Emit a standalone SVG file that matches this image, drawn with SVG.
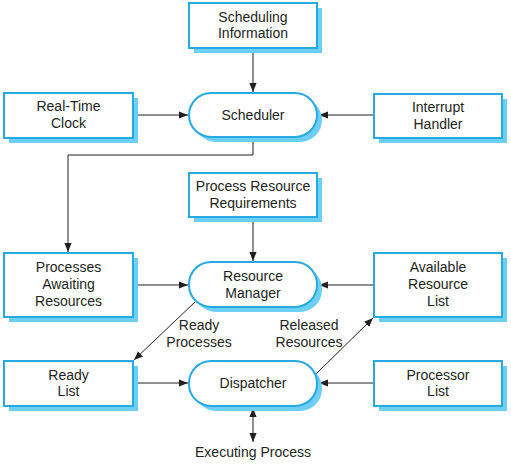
<svg xmlns="http://www.w3.org/2000/svg" width="511" height="465" viewBox="0 0 511 465">
<style>
.sh{fill:#6dcff6;stroke:none}
.bx{fill:#fff;stroke:#27aae1;stroke-width:2}
.t{font-family:"Liberation Sans",Arial,sans-serif;font-size:14px;fill:#231f20;text-anchor:middle}
.c{fill:none;stroke:#231f20;stroke-width:1}
</style>
<defs>
<marker id="ah" viewBox="0 0 10 10" refX="10" refY="5" markerWidth="9" markerHeight="9" markerUnits="userSpaceOnUse" orient="auto-start-reverse">
<path d="M0,1 L10,5 L0,9 Z" fill="#231f20"/>
</marker>
</defs>
<rect width="511" height="465" fill="#fff"/>
<g id="connectors">
<line class="c" x1="253" y1="48" x2="253" y2="92" marker-end="url(#ah)"/>
<line class="c" x1="133" y1="115" x2="188" y2="115" marker-end="url(#ah)"/>
<line class="c" x1="374" y1="115" x2="319" y2="115" marker-end="url(#ah)"/>
<polyline class="c" points="253,137 253,155 68,155 68,252" marker-end="url(#ah)"/>
<line class="c" x1="253" y1="217" x2="253" y2="261" marker-end="url(#ah)"/>
<line class="c" x1="133" y1="285" x2="188" y2="285" marker-end="url(#ah)"/>
<line class="c" x1="374" y1="285" x2="319" y2="285" marker-end="url(#ah)"/>
<line class="c" x1="195" y1="302" x2="134" y2="360" marker-end="url(#ah)"/>
<line class="c" x1="316" y1="374" x2="373" y2="318" marker-end="url(#ah)"/>
<line class="c" x1="133" y1="383" x2="188" y2="383" marker-end="url(#ah)"/>
<line class="c" x1="374" y1="383" x2="319" y2="383" marker-end="url(#ah)"/>
<line class="c" x1="253" y1="408" x2="253" y2="442" marker-start="url(#ah)" marker-end="url(#ah)"/>
<text class="t" x="199" y="330">Ready</text>
<text class="t" x="199" y="347">Processes</text>
<text class="t" x="309" y="330">Released</text>
<text class="t" x="309" y="347">Resources</text>
<text class="t" x="253" y="457">Executing Process</text>
</g>
<g id="scheduling-information">
<rect class="sh" x="194" y="8" width="128" height="45"/>
<rect class="bx" x="189" y="3" width="128" height="45"/>
<text class="t" x="253" y="22">Scheduling</text>
<text class="t" x="253" y="38">Information</text>
</g>
<g id="real-time-clock">
<rect class="sh" x="9" y="98" width="129" height="45"/>
<rect class="bx" x="4" y="93" width="129" height="45"/>
<text class="t" x="68.5" y="111">Real-Time</text>
<text class="t" x="68.5" y="128">Clock</text>
</g>
<g id="scheduler">
<rect class="sh" x="194" y="98" width="128" height="44" rx="22"/>
<rect class="bx" x="189" y="93" width="128" height="44" rx="22"/>
<text class="t" x="253" y="120">Scheduler</text>
</g>
<g id="interrupt-handler">
<rect class="sh" x="379" y="99" width="128" height="44"/>
<rect class="bx" x="374" y="94" width="128" height="44"/>
<text class="t" x="438" y="112">Interrupt</text>
<text class="t" x="438" y="129">Handler</text>
</g>
<g id="process-resource-requirements">
<rect class="sh" x="194" y="178" width="128" height="44"/>
<rect class="bx" x="189" y="173" width="128" height="44"/>
<text class="t" x="253" y="191">Process Resource</text>
<text class="t" x="253" y="208">Requirements</text>
</g>
<g id="processes-awaiting-resources">
<rect class="sh" x="9" y="258" width="129" height="64"/>
<rect class="bx" x="4" y="253" width="129" height="64"/>
<text class="t" x="68.5" y="272">Processes</text>
<text class="t" x="68.5" y="289">Awaiting</text>
<text class="t" x="68.5" y="306">Resources</text>
</g>
<g id="resource-manager">
<rect class="sh" x="194" y="267" width="128" height="45" rx="22"/>
<rect class="bx" x="189" y="262" width="128" height="45" rx="22"/>
<text class="t" x="253" y="281">Resource</text>
<text class="t" x="253" y="298">Manager</text>
</g>
<g id="available-resource-list">
<rect class="sh" x="379" y="258" width="128" height="64"/>
<rect class="bx" x="374" y="253" width="128" height="64"/>
<text class="t" x="438" y="272">Available</text>
<text class="t" x="438" y="289">Resource</text>
<text class="t" x="438" y="306">List</text>
</g>
<g id="ready-list">
<rect class="sh" x="9" y="366" width="129" height="45"/>
<rect class="bx" x="4" y="361" width="129" height="45"/>
<text class="t" x="68.5" y="380">Ready</text>
<text class="t" x="68.5" y="396">List</text>
</g>
<g id="dispatcher">
<rect class="sh" x="194" y="366" width="128" height="45" rx="22"/>
<rect class="bx" x="189" y="361" width="128" height="45" rx="22"/>
<text class="t" x="253" y="388">Dispatcher</text>
</g>
<g id="processor-list">
<rect class="sh" x="379" y="366" width="128" height="45"/>
<rect class="bx" x="374" y="361" width="128" height="45"/>
<text class="t" x="438" y="380">Processor</text>
<text class="t" x="438" y="396">List</text>
</g>
</svg>
